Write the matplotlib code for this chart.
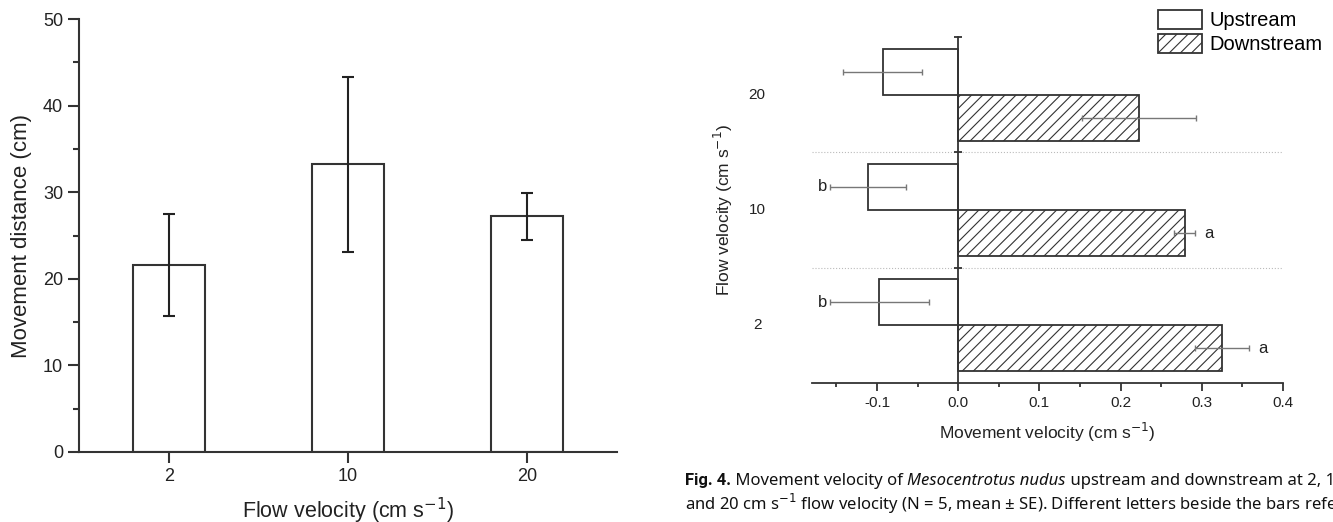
import matplotlib
matplotlib.use("Agg")
import matplotlib.pyplot as plt
import numpy as np

plt.rcParams['font.family'] = ['Liberation Sans', 'DejaVu Sans']
plt.rcParams['hatch.linewidth'] = 0.8
plt.rcParams['hatch.color'] = '#555555'

# left panel: movement distance
flow_labels = ['2', '10', '20']
distance_mean = [21.6, 33.2, 27.2]
distance_err = [5.9, 10.1, 2.7]

# right panel: movement velocity (groups drawn bottom to top: 2, 10, 20)
upstream_mean = [-0.097, -0.111, -0.093]
upstream_err = [0.061, 0.047, 0.049]
downstream_mean = [0.325, 0.279, 0.223]
downstream_err = [0.033, 0.013, 0.070]
upstream_letters = ['b', 'b', '']
downstream_letters = ['a', 'a', '']

W, H = 1333, 522
fig = plt.figure(figsize=(W / 100, H / 100), dpi=100)
line_col = '#333333'
text_col = '#222222'

# ---- left panel ----
ax1 = fig.add_axes([79 / W, 1 - 452 / H, 538 / W, 433 / H])
x = np.arange(1, len(flow_labels) + 1)
ax1.bar(x, distance_mean, width=0.4, color='white', edgecolor=line_col, linewidth=1.5)
ax1.errorbar(x, distance_mean, yerr=distance_err, fmt='none', ecolor='#222222',
             elinewidth=1.5, capsize=4, capthick=1.5)
ax1.set_xlim(0.5, 3.5)
ax1.set_ylim(0, 50)
ax1.set_xticks(x)
ax1.set_xticklabels(flow_labels)
ax1.set_yticks([0, 10, 20, 30, 40, 50])
ax1.set_yticks([5, 15, 25, 35, 45], minor=True)
for s in ['top', 'right']:
    ax1.spines[s].set_visible(False)
for s in ['left', 'bottom']:
    ax1.spines[s].set_linewidth(1.5)
    ax1.spines[s].set_color(line_col)
ax1.tick_params(which='major', length=8, width=1.5, color=line_col, labelsize=13,
                labelcolor=text_col)
ax1.tick_params(which='minor', length=4, width=1.5, color=line_col)
ax1.set_ylabel('Movement distance (cm)', fontsize=16, color=text_col, labelpad=8)
ax1.set_xlabel('Flow velocity (cm s$^{-1}$)', fontsize=15.5, color=text_col, labelpad=8)

# ---- right panel ----
ax2 = fig.add_axes([812 / W, 1 - 383 / H, 471 / W, 346 / H])
yc = np.arange(len(flow_labels))
b_up = ax2.barh(yc + 0.2, upstream_mean, height=0.4, color='white',
                edgecolor=line_col, linewidth=1.3, label='Upstream')
b_dn = ax2.barh(yc - 0.2, downstream_mean, height=0.4, color='white',
                edgecolor=line_col, linewidth=1.3, hatch='///', label='Downstream')
ax2.errorbar(upstream_mean, yc + 0.2, xerr=upstream_err, fmt='none', ecolor='#777777',
             elinewidth=1, capsize=2.5, capthick=1)
ax2.errorbar(downstream_mean, yc - 0.2, xerr=downstream_err, fmt='none', ecolor='#777777',
             elinewidth=1, capsize=2.5, capthick=1)
for i in range(len(yc)):
    if upstream_letters[i]:
        ax2.annotate(upstream_letters[i], (upstream_mean[i] - upstream_err[i], yc[i] + 0.2),
                     xytext=(-3, 0), textcoords='offset pixels', ha='right', va='center',
                     fontsize=12, color=text_col)
    if downstream_letters[i]:
        ax2.annotate(downstream_letters[i], (downstream_mean[i] + downstream_err[i], yc[i] - 0.2),
                     xytext=(9, 0), textcoords='offset pixels', ha='left', va='center',
                     fontsize=12, color=text_col)
for yb in [0.5, 1.5]:
    ax2.axhline(yb, color='#bbbbbb', lw=0.8, ls=':', zorder=0)

ax2.set_xlim(-0.18, 0.4)
ax2.set_ylim(-0.5, 2.5)
ax2.spines['left'].set_position(('data', 0))
for s in ['top', 'right']:
    ax2.spines[s].set_visible(False)
for s in ['left', 'bottom']:
    ax2.spines[s].set_linewidth(1.3)
    ax2.spines[s].set_color(line_col)
ax2.set_xticks([-0.1, 0.0, 0.1, 0.2, 0.3, 0.4])
ax2.set_xticklabels(['-0.1', '0.0', '0.1', '0.2', '0.3', '0.4'])
ax2.set_xticks(np.arange(-0.15, 0.41, 0.05), minor=True)
ax2.set_yticks([0.5, 1.5, 2.5])
ax2.set_yticklabels([])
ax2.tick_params(axis='x', which='major', length=6, width=1.3, color=line_col,
                labelsize=11, labelcolor=text_col)
ax2.tick_params(axis='x', which='minor', length=3, width=1.3, color=line_col)
ax2.tick_params(axis='y', which='major', direction='inout', length=6, width=1.3,
                color=line_col)
for i, lab in enumerate(flow_labels):
    ax2.annotate(lab, (0, yc[i]), xycoords=('axes fraction', 'data'), xytext=(-55, 0),
                 textcoords='offset pixels', ha='center', va='center', fontsize=11,
                 color=text_col)
ax2.set_xlabel('Movement velocity (cm s$^{-1}$)', fontsize=12.5, color=text_col, labelpad=8)
fig.text(723 / W, 1 - 210 / H, 'Flow velocity (cm s$^{-1}$)', rotation=90, ha='center',
         va='center', fontsize=12.5, color=text_col)

leg = fig.legend(handles=[b_up, b_dn], loc='upper left', bbox_to_anchor=(1158 / W, 1 - 10 / H),
                 frameon=False, fontsize=14.5, handlelength=2.2, handleheight=1.05,
                 handletextpad=0.35, labelspacing=0.2, borderpad=0, borderaxespad=0)

# ---- caption ----
cap_font = ['Noto Sans', 'DejaVu Sans']
cap_size = 12
cx = 685
fig.canvas.draw()
renderer = fig.canvas.get_renderer()
pieces = [('Fig. 4.', ['Roboto', 'DejaVu Sans'], 'bold', 'normal'),
          (' Movement velocity of ', cap_font, 'normal', 'normal'),
          ('Mesocentrotus nudus', cap_font, 'normal', 'italic'),
          (' upstream and downstream at 2, 10', cap_font, 'normal', 'normal')]
xpos = cx
for txt, fam, wt, st in pieces:
    t = fig.text(xpos / W, 1 - 485 / H, txt, family=fam, fontsize=cap_size,
                 weight=wt, style=st, color='#111111', va='baseline')
    xpos += t.get_window_extent(renderer).width
fig.text(cx / W, 1 - 510 / H,
         'and 20 cm s$^{-1}$ flow velocity (N = 5, mean \u00b1 SE). Different letters beside the bars refer',
         family=cap_font, fontsize=cap_size, color='#111111', va='baseline')
fig.text(cx / W, 1 - 534 / H, 'to the significant differences among experimental groups.',
         family=cap_font, fontsize=cap_size, color='#111111', va='baseline')

fig.savefig('out.png', dpi=100)
